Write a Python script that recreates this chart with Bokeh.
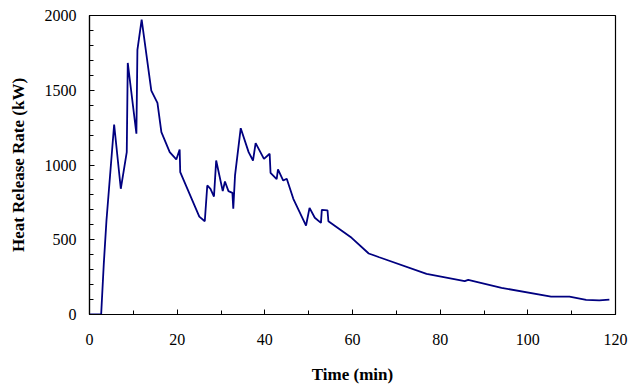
from bokeh.plotting import figure
from bokeh.models import Range1d, FixedTicker
from bokeh.embed import file_html
from bokeh.resources import INLINE

time_min = [0, 2.66, 3.26, 3.87, 5.62, 7.14, 8.5, 8.73, 10.7, 10.93, 11.9, 14.1, 15.5, 16.4,
            18.3, 19.8, 20.57, 20.7, 25.05, 26.3, 26.87, 27.6, 28.4, 28.9, 30.4, 30.9, 31.7,
            32.6, 32.8, 33.2, 34.5, 36.3, 37.3, 37.9, 39.8, 41.1, 41.3, 42.7, 43.0, 44.2, 45.0,
            46.5, 49.4, 50.2, 51.4, 52.8, 53.0, 54.3, 54.5, 59.8, 63.7, 66.1, 76.9, 85.6, 86.4,
            94.0, 105.3, 109.5, 113.3, 116.3, 118.6]
hrr_kw = [0, 0, 339, 629, 1271, 841, 1086, 1683, 1209, 1770, 1973, 1498, 1416, 1220,
          1086, 1037, 1104, 952, 655, 624, 863, 841, 789, 1030, 825, 890, 825,
          814, 707, 930, 1246, 1086, 1030, 1146, 1041, 1075, 948, 905, 970, 896, 908,
          774, 595, 713, 647, 613, 700, 696, 624, 513, 408, 383, 272, 223, 232,
          178, 120, 120, 98, 94, 100]

x_ticks = [0, 20, 40, 60, 80, 100, 120]
y_ticks = [0, 500, 1000, 1500, 2000]

FONT = "Liberation Serif"

p = figure(width=631, height=391, output_backend="svg", toolbar_location=None,
           x_range=Range1d(0, 120), y_range=Range1d(0, 2000),
           min_border_left=89, min_border_right=16, min_border_top=15, min_border_bottom=77)
p.line(time_min, hrr_kw, line_color="#000080", line_width=1.8)

p.xgrid.grid_line_color = None
p.ygrid.grid_line_color = None
p.outline_line_color = "black"
p.outline_line_width = 1.2
p.background_fill_color = "white"
p.border_fill_color = "white"

p.xaxis.ticker = FixedTicker(ticks=x_ticks, minor_ticks=list(range(0, 121, 10)))
p.yaxis.ticker = FixedTicker(ticks=y_ticks, minor_ticks=list(range(0, 2001, 100)))

for ax in (p.xaxis[0], p.yaxis[0]):
    ax.axis_line_color = "black"
    ax.axis_line_width = 1.2
    ax.major_tick_in = 5
    ax.major_tick_out = 0
    ax.minor_tick_in = 4
    ax.minor_tick_out = 0
    ax.major_tick_line_color = "black"
    ax.minor_tick_line_color = "black"
    ax.major_label_text_font = FONT
    ax.major_label_text_font_size = "16px"
    ax.major_label_text_color = "black"
    ax.axis_label_text_font = FONT
    ax.axis_label_text_font_style = "bold"
    ax.axis_label_text_font_size = "17px"
    ax.axis_label_text_color = "black"

p.xaxis.axis_label = "Time (min)"
p.yaxis.axis_label = "Heat Release Rate (kW)"
p.xaxis.major_label_standoff = 19
p.xaxis.axis_label_standoff = 17
p.yaxis.major_label_standoff = 13
p.yaxis.axis_label_standoff = 14

open("out.html", "w").write(file_html(p, INLINE))
